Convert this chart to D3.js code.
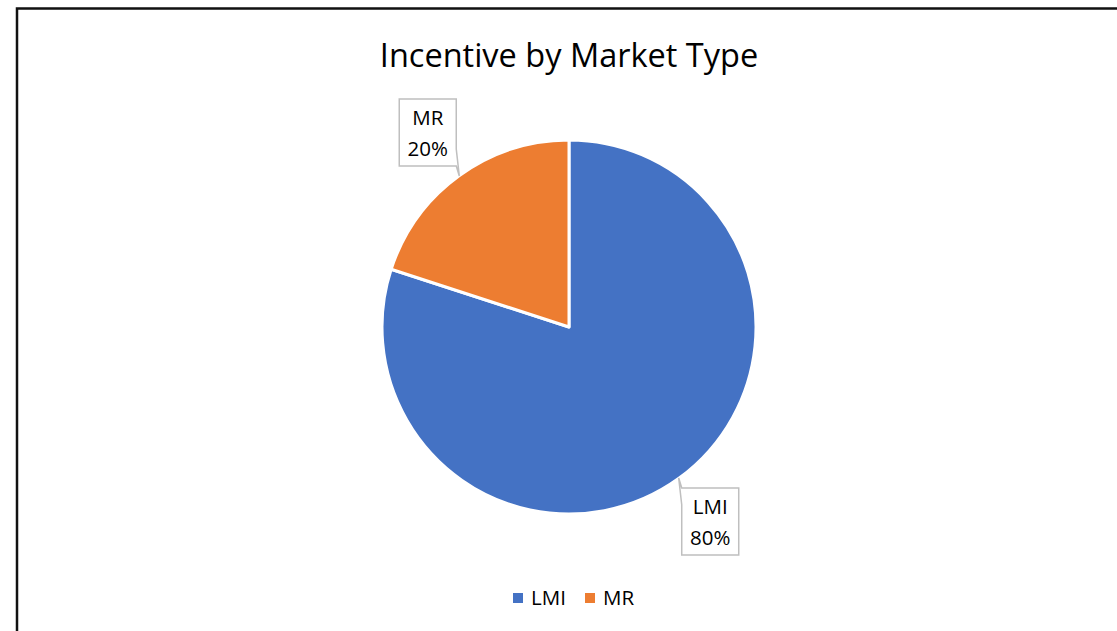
<!DOCTYPE html>
<html>
<head>
<meta charset="utf-8">
<script src="https://cdn.jsdelivr.net/npm/d3@7"></script>
<style>
  html, body { margin: 0; padding: 0; background: #fff; }
  svg { display: block; }
  text { font-family: "Open Sans", "Liberation Sans", sans-serif; fill: #000; }
</style>
</head>
<body>
<div id="chart"></div>
<script>
// chart data
var categories = ["LMI", "MR"];
var shares = [80, 20];
var colors = ["#4472C4", "#ED7D31"];
var chartTitle = "Incentive by Market Type";

var W = 1117, H = 631;
var cx = 569, cy = 327, radius = 187;

var svg = d3.select("#chart").append("svg").attr("width", W).attr("height", H);

// outer frame (runs off the right/bottom edge in the reference)
svg.append("rect")
  .attr("x", 17).attr("y", 8.5).attr("width", W + 20).attr("height", H + 20)
  .style("fill", "none").style("stroke", "#111").style("stroke-width", 2.5);

svg.append("text")
  .attr("x", cx).attr("y", 67)
  .attr("text-anchor", "middle")
  .style("font-size", "32.5px")
  .text(chartTitle);

var data = categories.map(function(c, i){ return {name: c, value: shares[i], color: colors[i]}; });
var pie = d3.pie().sort(null).value(function(d){ return d.value; });
var arcs = pie(data);
var arc = d3.arc().innerRadius(0).outerRadius(radius);

var g = svg.append("g").attr("transform", "translate(" + cx + "," + cy + ")");

g.selectAll(".slice").data(arcs).enter().append("path")
  .attr("class", "slice")
  .attr("d", arc)
  .style("fill", function(d){ return d.data.color; })
  .style("stroke", "#fff").style("stroke-width", 3).style("stroke-linejoin", "round");

// callout labels
var total = d3.sum(shares);
var boxW = 57, boxH = 67;
arcs.forEach(function(d){
  var mid = (d.startAngle + d.endAngle) / 2;
  var dx = Math.sin(mid), dy = -Math.cos(mid);
  var bx = dx * radius * 1.285, by = dy * radius * 1.285;
  var tipx = dx * radius * 0.998, tipy = dy * radius * 0.998;
  var x0 = bx - boxW/2, x1 = bx + boxW/2, y0 = by - boxH/2, y1 = by + boxH/2;
  var tail = 17;
  var pts;
  if (tipx > bx && tipy > by) {
    // tail from bottom-right corner
    pts = [[x0,y0],[x1,y0],[x1,y1-tail],[tipx,tipy],[x1,y1],[x0,y1]];
  } else if (tipx < bx && tipy < by) {
    // tail from top-left corner
    pts = [[x0,y0+tail],[tipx,tipy],[x0,y0],[x1,y0],[x1,y1],[x0,y1]];
  } else if (tipx > bx) {
    pts = [[x0,y0],[x1,y0],[tipx,tipy],[x1,y0+tail],[x1,y1],[x0,y1]];
  } else {
    pts = [[x0,y0],[x1,y0],[x1,y1],[x0,y1],[tipx,tipy],[x0,y1-tail]];
  }
  g.append("path")
    .attr("d", d3.line()(pts) + "Z")
    .style("fill", "#fff").style("stroke", "#BFBFBF").style("stroke-width", 1.5);
  var pct = Math.round(d.data.value / total * 100) + "%";
  g.append("text").attr("x", bx).attr("y", y0 + 26)
    .attr("text-anchor", "middle").style("font-size", "20.5px").text(d.data.name);
  g.append("text").attr("x", bx).attr("y", y0 + 57)
    .attr("text-anchor", "middle").style("font-size", "20.5px").text(pct);
});

// legend
var legend = svg.append("g").attr("class", "legend");
var legX = [513, 585];
data.forEach(function(d, i){
  legend.append("rect")
    .attr("x", legX[i]).attr("y", 593).attr("width", 10).attr("height", 10)
    .style("fill", d.color);
  legend.append("text")
    .attr("x", legX[i] + 18).attr("y", 605)
    .style("font-size", "20.5px").text(d.name);
});
</script>
</body>
</html>
